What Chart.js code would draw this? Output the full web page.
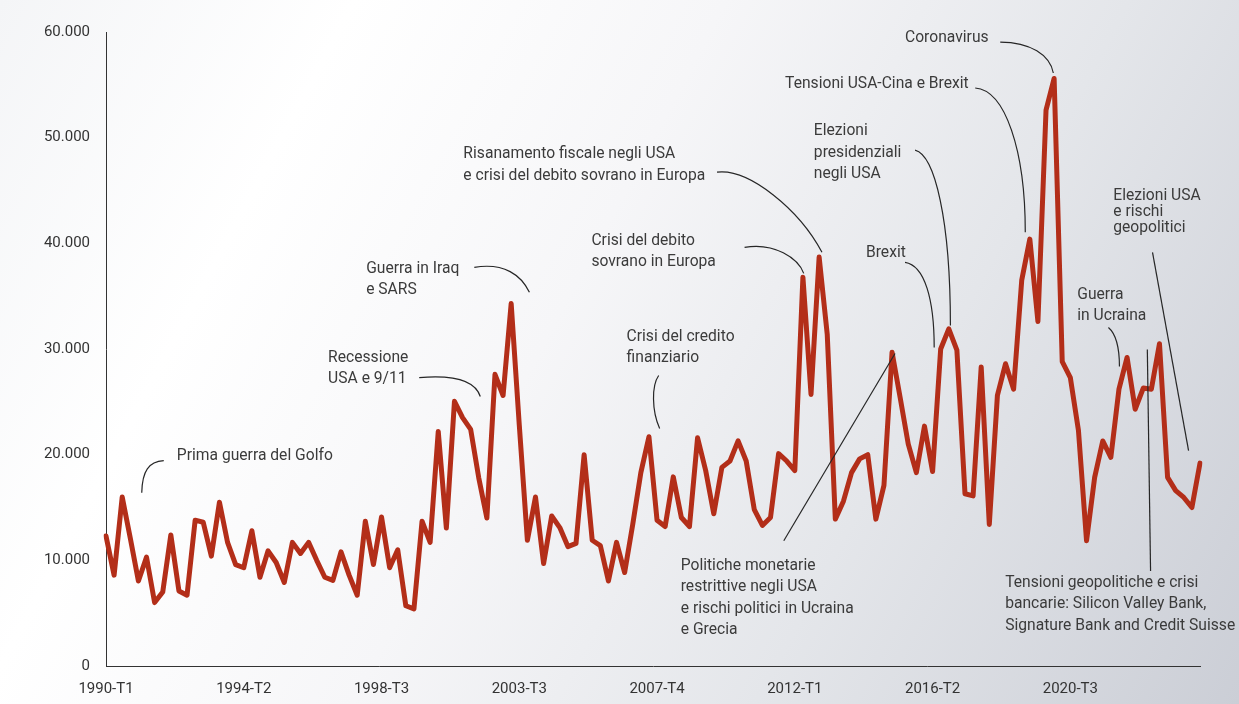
<!DOCTYPE html>
<html>
<head>
<meta charset="utf-8">
<script src="https://cdn.jsdelivr.net/npm/chart.js@4.4.1/dist/chart.umd.min.js"></script>
<style>
  html, body { margin: 0; padding: 0; }
  body {
    width: 1239px; height: 704px; overflow: hidden;
    background: linear-gradient(118deg, #f4f5f7 0%, #ffffff 22%, #f6f6f8 45%, #e4e6ea 70%, #cbced6 100%);
  }
  canvas { display: block; }
</style>
</head>
<body>
<canvas id="myChart" width="1239" height="704"></canvas>
<script>
// quarterly categories (the source skips 2002-T4 .. 2003-T2)
const quarters = [];
for (let y = 1990; y <= 2024; y++) {
    for (let q = 1; q <= 4; q++) {
        const k = y * 10 + q;
        if (k > 20023 && k < 20033) continue;
        if (k > 20243) continue;
        quarters.push(y + '-T' + q);
    }
}
const tickLabels = ['1990-T1', '1994-T2', '1998-T3', '2003-T3', '2007-T4', '2012-T1', '2016-T2', '2020-T3'];
const yTicks = [0, 10000, 20000, 30000, 40000, 50000, 60000];

const values = [
    12300, 8600, 16000, 12100, 8050, 10300, 6000, 7000, 12400, 7100,
    6700, 13800, 13600, 10400, 15500, 11700, 9600, 9300, 12800, 8400,
    10900, 9800, 7900, 11700, 10650, 11700, 10000, 8400, 8100, 10800,
    8600, 6700, 13700, 9600, 14100, 9300, 11000, 5700, 5400, 13700,
    11700, 22200, 13050, 25050, 23500, 22400, 17800, 14000, 27600, 25600,
    34300, 22800, 11900, 16000, 9700, 14200, 13100, 11300, 11600, 20000,
    11900, 11400, 8050, 11700, 8850, 13400, 18300, 21700, 13800, 13200,
    17900, 14050, 13200, 21600, 18500, 14400, 18800, 19400, 21300, 19400,
    14800, 13300, 14050, 20100, 19400, 18500, 36800, 25700, 38700, 31400,
    13900, 15600, 18300, 19600, 20000, 13900, 17100, 29700, 25400, 21000,
    18300, 22700, 18400, 30000, 31900, 29900, 16300, 16100, 28300, 13400,
    25600, 28600, 26200, 36500, 40400, 32600, 52600, 55600, 28800, 27300,
    22300, 11850, 17850, 21300, 19750, 26200, 29200, 24300, 26300, 26200,
    30500, 17850, 16600, 15950, 15000, 19200
];

// annotations: text anchor (category index, value) and leader path in the same units
const noteTexts = [
    ['Prima guerra del Golfo'],
    ['Recessione', 'USA e 9/11'],
    ['Guerra in Iraq', 'e SARS'],
    ['Crisi del credito', 'finanziario'],
    ['Crisi del debito', 'sovrano in Europa'],
    ['Risanamento fiscale negli USA', 'e crisi del debito sovrano in Europa'],
    ['Politiche monetarie', 'restrittive negli USA', 'e rischi politici in Ucraina', 'e Grecia'],
    ['Brexit'],
    ['Elezioni', 'presidenziali', 'negli USA'],
    ['Tensioni USA-Cina e Brexit'],
    ['Coronavirus'],
    ['Guerra', 'in Ucraina'],
    ['Elezioni USA', 'e rischi', 'geopolitici'],
    ['Tensioni geopolitiche e crisi', 'bancarie: Silicon Valley Bank,', 'Signature Bank and Credit Suisse']
];
const noteAnchors = [
    [8.74, 19900], [27.41, 29200], [32.1, 37630], [64.24, 31190], [59.9, 40290],
    [44.1, 48440], [70.92, 9480], [93.78, 39150], [87.35, 50620], [83.8, 55070],
    [98.6, 59430], [119.85, 35170], [124.3, 44550], [110.96, 7870]
];
const notePaths = [
    [[7.13, 19430], [5.28, 19340], [4.47, 18480], [4.41, 16400]],
    [[38.65, 27300], [42.98, 27580], [45.57, 27020], [46.19, 25500]],
    [[45.45, 37730], [49.16, 38200], [51.26, 36970], [52.25, 35360]],
    [[68.2, 27490], [67.33, 26540], [67.33, 24170], [68.32, 22470]],
    [[78.8, 39620], [82.5, 40100], [85.4, 38580], [86.1, 37160]],
    [[75.4, 46730], [79.4, 47110], [85.6, 43130], [88.35, 39150]],
    [[83.64, 11850], [83.64, 11850], [97.37, 29570], [97.37, 29570]],
    [[98.6, 38200], [101.07, 37920], [102.2, 34600], [102.2, 30140]],
    [[99.84, 48820], [102.3, 48340], [104.2, 42180], [104.2, 32230]],
    [[107.26, 54700], [110.96, 54500], [113.44, 48820], [113.44, 41040]],
    [[110.35, 59050], [114.05, 59050], [116.5, 57820], [116.9, 56120]],
    [[123.7, 32040], [124.56, 31470], [125.06, 30330], [125.06, 28340]],
    [[129.14, 39150], [129.14, 39150], [133.59, 20380], [133.59, 20380]],
    [[128.5, 29950], [128.5, 29950], [128.9, 9000], [128.9, 9000]]
];

const notesPlugin = {
    id: 'notes',
    afterDatasetsDraw(chart) {
        const c = chart.ctx;
        const xs = chart.scales.x, ys = chart.scales.y;
        const px = i => xs.getPixelForValue(i);
        const py = v => ys.getPixelForValue(v);
        c.save();
        // leader lines
        c.strokeStyle = '#262626';
        c.lineWidth = 1.2;
        notePaths.forEach(p => {
            c.beginPath();
            c.moveTo(px(p[0][0]), py(p[0][1]));
            c.bezierCurveTo(px(p[1][0]), py(p[1][1]), px(p[2][0]), py(p[2][1]), px(p[3][0]), py(p[3][1]));
            c.stroke();
        });
        // texts
        c.fillStyle = '#3b3b3b';
        c.font = '17px Roboto';
        c.textBaseline = 'middle';
        c.textAlign = 'left';
        noteTexts.forEach((lines, k) => {
            const x0 = px(noteAnchors[k][0]);
            const y0 = py(noteAnchors[k][1]);
            const lh = k === 12 ? 16 : 21.3;
            lines.forEach((t, j) => {
                c.save();
                c.translate(x0, y0 + j * lh);
                c.scale(0.92, 1);
                c.fillText(t, 0, 0);
                c.restore();
            });
        });
        c.restore();
    }
};

const ctx = document.getElementById('myChart').getContext('2d');
const myChart = new Chart(ctx, {
    type: 'line',
    data: {
        labels: quarters,
        datasets: [{
            data: values,
            borderColor: '#b32e19',
            borderWidth: 5,
            pointRadius: 0,
            tension: 0,
            fill: false,
            borderJoinStyle: 'round',
            borderCapStyle: 'round'
        }]
    },
    options: {
        responsive: false,
        animation: false,
        devicePixelRatio: 1,
        layout: { padding: { top: 32, right: 39, left: 0, bottom: 0 } },
        plugins: {
            legend: { display: false },
            tooltip: { enabled: false }
        },
        scales: {
            x: {
                grid: { display: false, drawTicks: false },
                border: { color: '#333333', width: 1 },
                ticks: {
                    autoSkip: false,
                    maxRotation: 0,
                    padding: 14,
                    color: '#333333',
                    font: { family: 'Roboto', size: 15 },
                    callback: function (v, i) {
                        return i % 17 === 0 ? tickLabels[i / 17] : '';
                    }
                },
                afterFit: function (s) { s.height = 38; }
            },
            y: {
                min: yTicks[0],
                max: yTicks[yTicks.length - 1],
                grid: { display: false, drawTicks: false },
                border: { color: '#333333', width: 1 },
                afterBuildTicks: function (s) { s.ticks = yTicks.map(v => ({ value: v })); },
                ticks: {
                    padding: 16,
                    color: '#333333',
                    font: { family: 'Roboto', size: 15 },
                    callback: function (v) {
                        return v === 0 ? '0' : (v / 1000) + '.000';
                    }
                },
                afterFit: function (s) { s.width = 106; }
            }
        }
    },
    plugins: [notesPlugin]
});
</script>
</body>
</html>
